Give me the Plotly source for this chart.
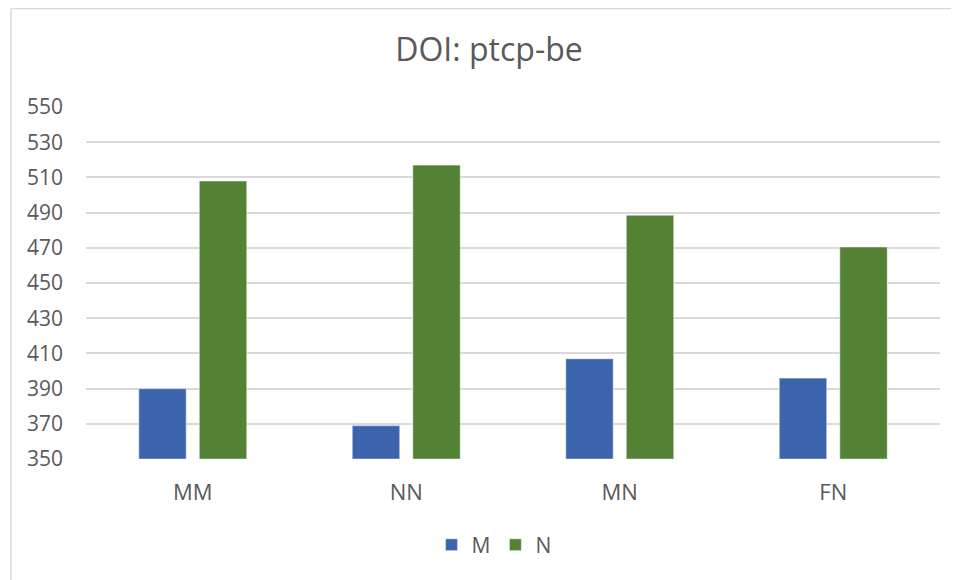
import plotly.graph_objects as go

categories = ["MM", "NN", "MN", "FN"]
series_names = ["M", "N"]
values_M = [390, 369, 407, 396]
values_N = [508, 517, 488.5, 470.5]
y_ticks = [350, 370, 390, 410, 430, 450, 470, 490, 510, 530, 550]

colors = {"M": "#3C64AD", "N": "#548235"}
font_family = "Open Sans, Noto Sans, sans-serif"
text_color = "#595959"

fig = go.Figure()
for name, vals in zip(series_names, [values_M, values_N]):
    fig.add_trace(go.Bar(
        x=categories, y=[v - 350 for v in vals], base=350, name=name,
        marker=dict(color=colors[name], line=dict(color="rgba(255,255,255,0.45)", width=1.2)),
    ))

# page body has an 8px margin: figure is placed at (8, 8)
OFF = 8
W, H = 959 - OFF, 580 - OFF
l, r, t, b = 86 - OFF, 19, 107 - OFF, 121
ph = H - t - b
pw = W - l - r

fig.update_layout(
    width=W, height=H,
    margin=dict(l=l, r=r, t=t, b=b),
    paper_bgcolor="white", plot_bgcolor="white",
    barmode="group", bargap=0.433, bargroupgap=0.215,
    font=dict(family=font_family, color=text_color, size=21),
    title=dict(text="DOI: ptcp-be", x=(489 - OFF) / W, xanchor="center", xref="container",
               y=1 - (50 - OFF) / H, yanchor="middle", yref="container",
               font=dict(size=32, color=text_color, family=font_family)),
    showlegend=True,
    legend=dict(orientation="h", x=(494 - OFF - l) / pw, xanchor="center",
                y=(t + ph - (545 - OFF)) / ph, yanchor="middle",
                font=dict(size=21, color=text_color), itemwidth=30,
                traceorder="normal"),
    xaxis=dict(showgrid=False, showline=False, zeroline=False, ticks="",
               tickfont=dict(size=22, color=text_color), ticklabelstandoff=18),
    yaxis=dict(range=[350, 550], tickvals=y_ticks, showgrid=True, gridcolor="#D9D9D9",
               gridwidth=1.5, zeroline=False, showline=False, ticks="",
               tickfont=dict(size=21, color=text_color), ticklabelstandoff=22),
    shapes=[dict(type="rect", xref="paper", yref="paper",
                 x0=-(l - (11 - OFF)) / pw, x1=1.2, y0=-0.6, y1=(t + ph - 0.5) / ph,
                 line=dict(color="#D9D9D9", width=1.5), fillcolor="rgba(0,0,0,0)", layer="below")],
)

fig.write_html("out.html")
